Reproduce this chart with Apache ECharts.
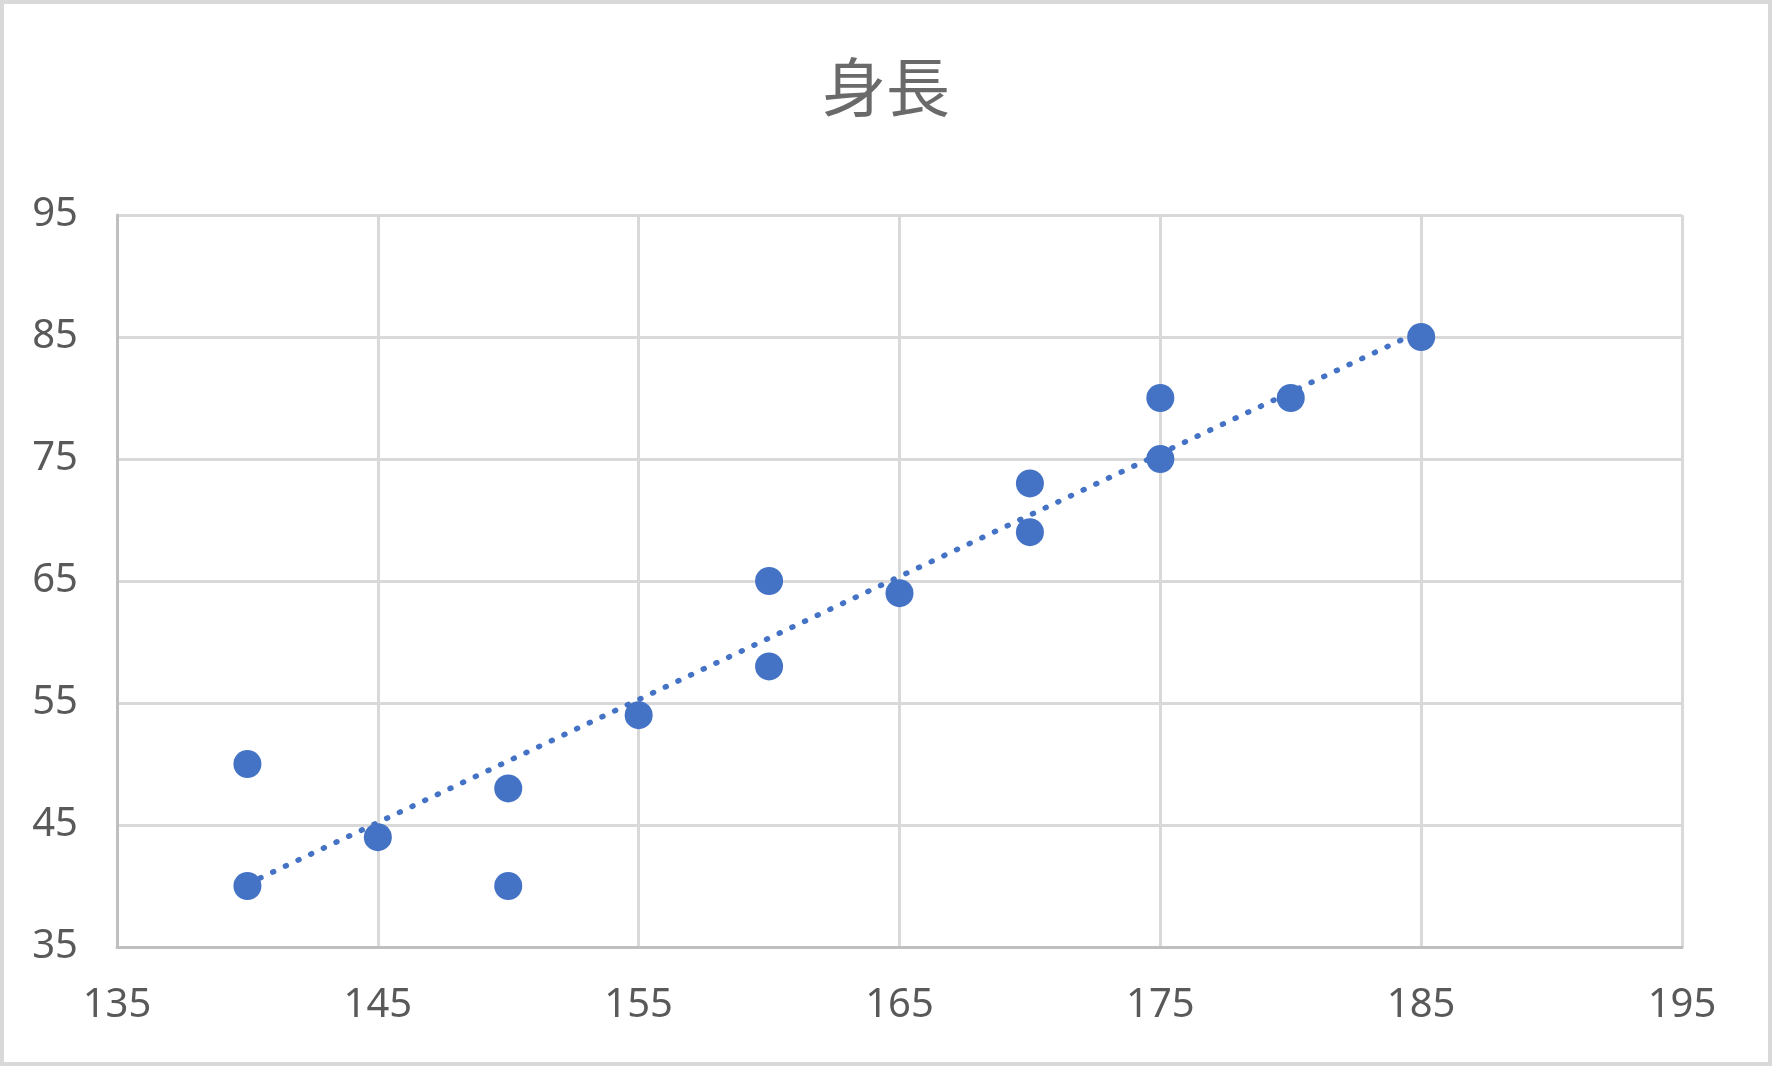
<!DOCTYPE html>
<html>
<head>
<meta charset="utf-8">
<title>身長</title>
<script src="https://cdn.jsdelivr.net/npm/echarts@6/dist/echarts.min.js"></script>
<style>
    html, body {margin:0; padding:0; background:#fff;}
    #main {width:1772px; height:1066px;}
</style>
</head>
<body>
<div id="main"></div>
<script>
// 散布図のデータ（身長 x, y）
const xValues = [140, 140, 145, 150, 150, 155, 160, 160, 165, 170, 170, 175, 175, 180, 185];
const yValues = [50, 40, 44, 48, 40, 54, 65, 58, 64, 73, 69, 80, 75, 80, 85];
const chartTitle = '身長';

// 線形近似（Excel の近似曲線と同じ最小二乗）
function linearFit(xs, ys) {
    const n = xs.length;
    let sx = 0, sy = 0, sxy = 0, sxx = 0;
    for (let i = 0; i < n; i++) {
        sx += xs[i]; sy += ys[i];
        sxy += xs[i] * ys[i]; sxx += xs[i] * xs[i];
    }
    const slope = (n * sxy - sx * sy) / (n * sxx - sx * sx);
    const b = (sy - slope * sx) / n;
    return {slope, b};
}
const fit = linearFit(xValues, yValues);
const xMin = Math.min(...xValues), xMax = Math.max(...xValues);
const trend = [[xMin, fit.slope * xMin + fit.b], [xMax, fit.slope * xMax + fit.b]];

const points = xValues.map((x, i) => [x, yValues[i]]);

const labelFont = {
    color: '#595959',
    fontSize: 40,
    fontFamily: '"Segoe UI", "Noto Sans", sans-serif'
};

let myChart = echarts.init(document.getElementById('main'));
myChart.setOption({
    backgroundColor: '#fff',
    animation: false,
    title: {
        text: chartTitle,
        left: 'center',
        top: 50,
        textStyle: {
            color: '#6a6a6a',
            fontSize: 64,
            fontWeight: 'normal',
            fontFamily: '"Noto Sans CJK JP", sans-serif'
        }
    },
    graphic: [{
        type: 'rect',
        shape: {x: 2, y: 2, width: 1768, height: 1062},
        style: {fill: 'none', stroke: '#d9d9d9', lineWidth: 4},
        silent: true
    }],
    grid: {
        left: 117,
        right: 90,
        top: 215,
        bottom: 119
    },
    xAxis: {
        type: 'value',
        min: 135,
        max: 195,
        interval: 10,
        axisLine: {show: true, onZero: false, lineStyle: {color: '#bfbfbf', width: 3}},
        axisTick: {show: false},
        splitLine: {show: true, lineStyle: {color: '#d9d9d9', width: 3}},
        axisLabel: Object.assign({margin: 39}, labelFont)
    },
    yAxis: {
        type: 'value',
        min: 35,
        max: 95,
        interval: 10,
        axisLine: {show: true, onZero: false, lineStyle: {color: '#bfbfbf', width: 3}},
        axisTick: {show: false},
        splitLine: {show: true, lineStyle: {color: '#d9d9d9', width: 3}},
        axisLabel: Object.assign({margin: 39}, labelFont)
    },
    series: [
        {
            name: '近似',
            type: 'line',
            data: trend,
            symbol: 'none',
            z: 3,
            lineStyle: {
                color: '#4472c4',
                width: 5.5,
                type: [1, 13],
                cap: 'round'
            }
        },
        {
            name: '身長',
            type: 'scatter',
            data: points,
            symbolSize: 28,
            z: 4,
            itemStyle: {color: '#4472c4', opacity: 1}
        }
    ]
});
</script>
</body>
</html>
